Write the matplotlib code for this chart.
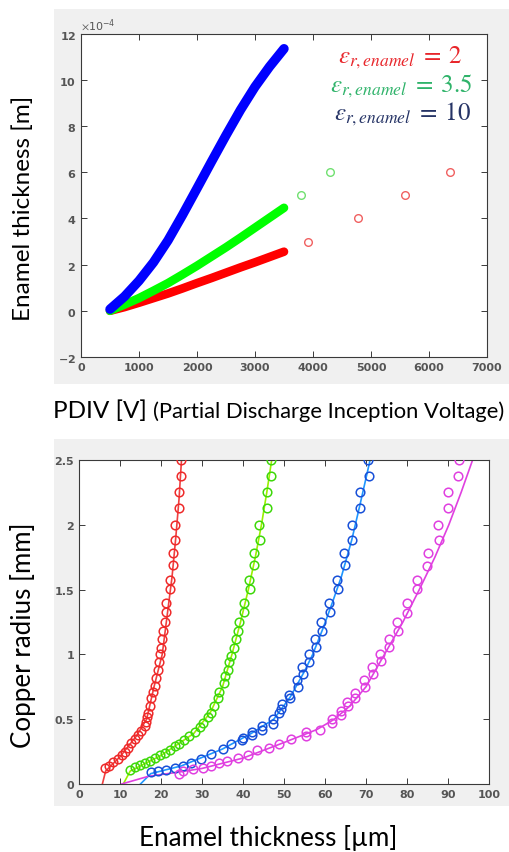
import matplotlib
matplotlib.use("Agg")
import matplotlib.pyplot as plt
from matplotlib.patches import Rectangle
from matplotlib.ticker import ScalarFormatter

plt.rcParams['font.family'] = ['DejaVu Sans']
plt.rcParams['axes.unicode_minus'] = False
plt.rcParams['mathtext.fontset'] = 'stix'

# ---------------- Top chart data (PDIV vs enamel thickness) ----------------
pdiv_v = [500, 750, 1000, 1250, 1500, 1750, 2000, 2250, 2500, 2750, 3000, 3250, 3500]
thick_eps2 = [0.0, 0.16, 0.35, 0.55, 0.75, 0.97, 1.2, 1.42, 1.65, 1.88, 2.1, 2.33, 2.56]
thick_eps35 = [0.0, 0.27, 0.55, 0.87, 1.2, 1.57, 1.95, 2.35, 2.75, 3.17, 3.6, 4.03, 4.46]
thick_eps10 = [0.07, 0.62, 1.3, 2.1, 3.05, 4.15, 5.3, 6.46, 7.6, 8.7, 9.7, 10.57, 11.35]
meas_red_v = [3920, 4770, 5580, 6360]
meas_red_t = [3.0, 4.0, 5.0, 6.0]
meas_green_v = [3800, 4300]
meas_green_t = [5.0, 6.0]
legend_labels = [r'$\varepsilon_{r,enamel}\;=\;2$', r'$\varepsilon_{r,enamel}\;=\;3.5$',
                 r'$\varepsilon_{r,enamel}\;=\;10$']

# ---------------- Bottom chart data (copper radius vs enamel thickness) ----------------
red_x = [24.9, 24.9, 24.5, 24.5, 23.3, 23.3, 22.9, 22.9, 22.3, 22.3, 21.3, 21.1, 20.9, 20.6,
         20.3, 20.1, 19.8, 19.5, 19.3, 18.9, 18.6, 18.0, 17.6, 17.2, 16.9, 16.7, 16.4, 16.0,
         15.2, 14.4, 13.6, 12.8, 12.0, 11.2, 10.4, 9.6, 8.4, 7.2, 6.4]
red_y = [2.5, 2.38, 2.25, 2.13, 2.0, 1.88, 1.78, 1.69, 1.575, 1.505, 1.40, 1.33, 1.25, 1.18,
         1.12, 1.05, 1.0, 0.94, 0.88, 0.82, 0.76, 0.71, 0.66, 0.60, 0.55, 0.52, 0.48, 0.45,
         0.41, 0.38, 0.35, 0.32, 0.28, 0.25, 0.22, 0.19, 0.17, 0.14, 0.12]
green_x = [46.8, 46.8, 45.9, 45.9, 43.9, 44.1, 42.7, 42.7, 41.5, 41.6, 40.3, 40.3, 39.1, 38.9,
           38.3, 37.8, 37.1, 36.7, 36.3, 35.7, 35.3, 34.2, 33.8, 33.0, 32.2, 31.4, 30.2, 29.4,
           28.2, 26.9, 25.7, 24.5, 23.3, 22.1, 20.9, 19.7, 18.5, 17.3, 16.1, 14.9, 13.7, 12.5]
green_y = [2.5, 2.38, 2.25, 2.13, 2.0, 1.88, 1.78, 1.69, 1.575, 1.505, 1.40, 1.33, 1.25, 1.18,
           1.12, 1.05, 0.99, 0.94, 0.88, 0.83, 0.78, 0.71, 0.66, 0.60, 0.55, 0.52, 0.47, 0.44,
           0.40, 0.37, 0.34, 0.31, 0.29, 0.26, 0.24, 0.22, 0.20, 0.18, 0.16, 0.15, 0.13, 0.11]
blue_x = [70.6, 70.8, 68.6, 68.6, 66.6, 66.7, 64.6, 64.8, 62.9, 63.1, 60.9, 61.1, 59.1, 59.3,
          57.5, 57.9, 56.1, 56.2, 54.4, 54.7, 53.2, 53.4, 51.2, 51.5, 49.6, 49.2, 48.8, 47.2,
          47.2, 44.7, 44.7, 42.3, 42.3, 39.9, 39.7, 37.1, 35.0, 32.2, 29.8, 27.4, 25.3, 23.3,
          21.3, 19.2, 17.6]
blue_y = [2.5, 2.38, 2.25, 2.13, 2.0, 1.88, 1.78, 1.69, 1.575, 1.505, 1.40, 1.33, 1.25, 1.18,
          1.12, 1.06, 1.0, 0.94, 0.90, 0.85, 0.80, 0.75, 0.69, 0.66, 0.62, 0.58, 0.55, 0.50,
          0.46, 0.45, 0.42, 0.40, 0.38, 0.355, 0.34, 0.31, 0.27, 0.23, 0.19, 0.16, 0.14, 0.12,
          0.11, 0.10, 0.09]
mag_x = [92.7, 92.5, 90.0, 90.0, 87.6, 87.7, 85.2, 85.0, 82.4, 82.5, 79.9, 80.1, 77.5, 77.7,
         75.5, 75.7, 73.5, 73.7, 71.4, 71.6, 69.6, 69.8, 67.2, 67.4, 65.4, 65.6, 63.8, 63.8,
         61.7, 61.7, 58.7, 55.3, 55.3, 51.6, 48.8, 46.4, 43.5, 41.1, 38.7, 36.2, 34.2, 32.2,
         30.2, 27.7, 25.3, 24.3]
mag_y = [2.5, 2.38, 2.25, 2.13, 2.0, 1.88, 1.78, 1.68, 1.575, 1.505, 1.40, 1.32, 1.25, 1.18,
         1.12, 1.06, 1.0, 0.95, 0.905, 0.85, 0.80, 0.75, 0.70, 0.66, 0.63, 0.60, 0.565, 0.53,
         0.50, 0.47, 0.42, 0.40, 0.37, 0.35, 0.31, 0.28, 0.26, 0.22, 0.20, 0.18, 0.16, 0.14,
         0.12, 0.115, 0.10, 0.08]

red_fit_x = [5.7, 6.5, 10.0, 14.0, 16.5, 18.3, 20.3, 21.5, 22.7, 23.6, 24.4, 25.0]
red_fit_y = [0.0, 0.1, 0.21, 0.37, 0.5, 0.75, 1.0, 1.3, 1.6, 1.9, 2.2, 2.5]
green_fit_x = [10.8, 12.5, 20.0, 28.0, 32.0, 35.0, 37.3, 39.4, 41.3, 43.0, 44.5, 45.8, 47.0]
green_fit_y = [0.0, 0.1, 0.22, 0.39, 0.55, 0.75, 1.0, 1.25, 1.5, 1.75, 2.0, 2.25, 2.5]
blue_fit_x = [15.0, 17.5, 25.0, 35.0, 42.0, 47.5, 51.5, 55.0, 57.0, 59.5, 61.8, 64.0, 66.5, 68.5, 71.0]
blue_fit_y = [0.0, 0.08, 0.14, 0.27, 0.39, 0.5, 0.67, 0.87, 1.0, 1.2, 1.4, 1.6, 1.88, 2.15, 2.5]
mag_fit_x = [10.4, 17.0, 24.0, 30.0, 40.0, 50.0, 58.0, 62.3, 66.0, 70.0, 74.5, 79.0, 83.0,
             86.8, 90.2, 93.2, 96.0]
mag_fit_y = [0.0, 0.06, 0.09, 0.12, 0.2, 0.32, 0.42, 0.5, 0.6, 0.75, 1.0, 1.25, 1.5, 1.75,
             2.0, 2.25, 2.5]

W, H = 509, 853
fig = plt.figure(figsize=(W / 100, H / 100), dpi=100)
fig.patch.set_facecolor('white')

panel = '#f0f0f0'
fig.patches.append(Rectangle((54 / W, 1 - 385 / H), 455 / W, 375 / H, transform=fig.transFigure,
                             facecolor=panel, edgecolor='none', zorder=-10))
fig.patches.append(Rectangle((54 / W, 1 - 807 / H), 455 / W, 367 / H, transform=fig.transFigure,
                             facecolor=panel, edgecolor='none', zorder=-10))

tick_col = '#555555'


def style(ax):
    ax.set_facecolor('white')
    for s in ax.spines.values():
        s.set_color('#3a3a3a')
        s.set_linewidth(0.8)
    ax.tick_params(direction='in', top=True, right=True, length=4, width=0.7,
                   colors='#3a3a3a', labelcolor=tick_col, labelsize=8)
    for lab in ax.get_xticklabels() + ax.get_yticklabels():
        lab.set_fontweight('bold')


# ---------- top axes ----------
ax1 = fig.add_axes([81 / W, 1 - 358 / H, 406 / W, (358 - 34.7) / H])
scale = 1e-4
line_kw = dict(solid_capstyle='round', solid_joinstyle='round')
ax1.plot(pdiv_v, [v * scale for v in thick_eps2], color='#ff0000', lw=6.2, zorder=3, **line_kw)
ax1.plot(pdiv_v, [v * scale for v in thick_eps35], color='#00ff00', lw=6.2, zorder=4, **line_kw)
ax1.plot(pdiv_v, [v * scale for v in thick_eps10], color='#0000ff', lw=6.8, zorder=5, **line_kw)
ax1.plot(meas_red_v, [v * scale for v in meas_red_t], 'o', mfc='none', mec='#f06060',
         ms=5.5, mew=1.0)
ax1.plot(meas_green_v, [v * scale for v in meas_green_t], 'o', mfc='none', mec='#70e070',
         ms=5.5, mew=1.0)
ax1.set_xlim(0, 7000)
ax1.set_ylim(-2e-4, 12e-4)
ax1.set_xticks(range(0, 7001, 1000))
ax1.set_yticks([v * scale for v in range(-2, 13, 2)])
fmt = ScalarFormatter(useMathText=True)
fmt.set_powerlimits((-4, -4))
ax1.yaxis.set_major_formatter(fmt)
style(ax1)
ax1.yaxis.get_offset_text().set_color(tick_col)
ax1.yaxis.get_offset_text().set_fontsize(8)

leg_cols = ['#e8262b', '#2fb36a', '#263466']
leg_pos = [(463, 63), (473, 92), (471, 120)]
for lab, c, (px, py) in zip(legend_labels, leg_cols, leg_pos):
    fig.text(px / W, 1 - py / H, lab, color=c, fontsize=18, ha='right', va='baseline')

fig.text(53 / W, 1 - 418 / H, 'PDIV [V]', fontsize=17.5, family='Lato', ha='left', va='baseline')
fig.text(153 / W, 1 - 418 / H, '(Partial Discharge Inception Voltage)', fontsize=15.8,
         family='Lato', ha='left', va='baseline')
fig.text(23 / W, 1 - 208 / H, 'Enamel thickness [m]', fontsize=17.5, family='Lato',
         rotation=90, ha='center', va='center')

# ---------- bottom axes ----------
ax2 = fig.add_axes([79 / W, 1 - 785 / H, 410 / W, 324 / H])
series = [
    (red_x, red_y, red_fit_x, red_fit_y, '#ee2a2a', '#f04040'),
    (green_x, green_y, green_fit_x, green_fit_y, '#3ed80a', '#99f000'),
    (blue_x, blue_y, blue_fit_x, blue_fit_y, '#1850d8', '#1e96ff'),
    (mag_x, mag_y, mag_fit_x, mag_fit_y, '#e040e0', '#e040e0'),
]
for xs, ys, fx, fy, mc, lc in series:
    ax2.plot(fx, fy, color=lc, lw=1.2, zorder=2)
    ax2.plot(xs, ys, 'o', mfc='none', mec=mc, ms=6.2, mew=1.1, zorder=3)
ax2.set_xlim(0, 100)
ax2.set_ylim(0, 2.5)
ax2.set_xticks(range(0, 101, 10))
ax2.set_yticks([0, 0.5, 1, 1.5, 2, 2.5])
ax2.set_yticklabels(['0', '0.5', '1', '1.5', '2', '2.5'])
style(ax2)

fig.text(23 / W, 1 - 635 / H, 'Copper radius [mm]', fontsize=18.6, family='Lato',
         rotation=90, ha='center', va='center')
fig.text(268 / W, 1 - 838 / H, 'Enamel thickness [µm]', fontsize=18.7, family='Lato',
         ha='center', va='center')

fig.savefig('out.png', dpi=100, facecolor='white')
